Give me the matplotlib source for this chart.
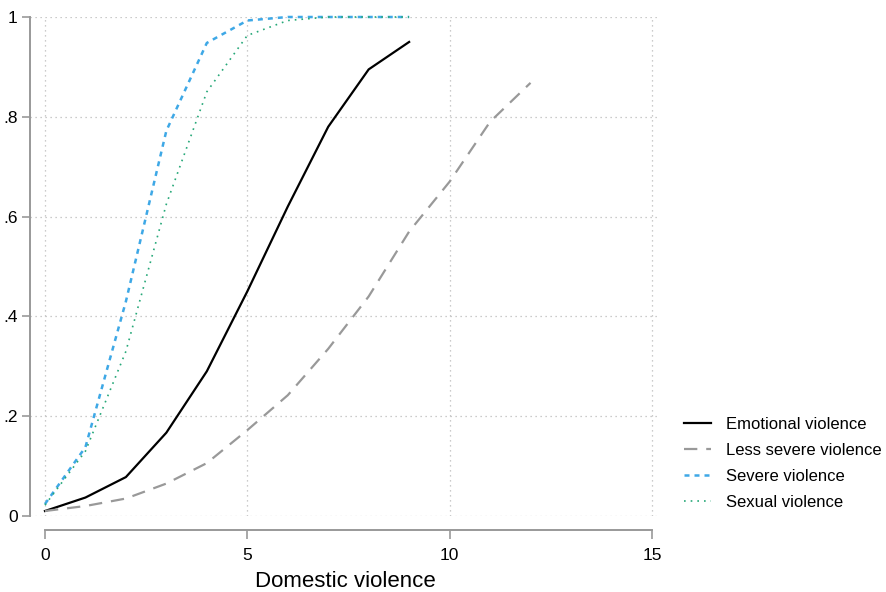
import matplotlib
matplotlib.use('Agg')
import matplotlib.pyplot as plt

# values
x_emot = [0, 1, 2, 3, 4, 5, 6, 7, 8, 9]
emotional = [0.010, 0.037, 0.078, 0.167, 0.290, 0.450, 0.620, 0.780, 0.895, 0.950]

x_less = [0, 1, 2, 3, 4, 5, 6, 7, 8, 9, 10, 11, 12]
less_severe = [0.010, 0.020, 0.035, 0.065, 0.106, 0.172, 0.242, 0.335, 0.440, 0.570, 0.670, 0.790, 0.868]

x_sev = [0, 1, 2, 3, 4, 5, 6, 7, 8, 9]
severe = [0.024, 0.138, 0.430, 0.772, 0.948, 0.993, 1.0, 1.0, 1.0, 1.0]

x_sex = [0, 1, 2, 3, 4, 5, 6, 7, 8, 9]
sexual = [0.022, 0.130, 0.330, 0.625, 0.850, 0.963, 0.993, 1.0, 1.0, 1.0]

xticks = [0, 5, 10, 15]
yticks = [0, 0.2, 0.4, 0.6, 0.8, 1.0]
ylabels = ['0', '.2', '.4', '.6', '.8', '1']

plt.rcParams['font.family'] = ['Liberation Sans', 'DejaVu Sans']

fig = plt.figure(figsize=(8.86, 5.92), dpi=100)
ax = fig.add_axes([30 / 886, 76 / 592, 630 / 886, 499 / 592])

ax.plot(x_emot, emotional, color='black', lw=1.6, ls='-', label='Emotional violence', clip_on=False)
ax.plot(x_less, less_severe, color='#999999', lw=1.6, ls=(0, (6, 4)), label='Less severe violence', clip_on=False)
ax.plot(x_sev, severe, color='#3ea8e6', lw=1.8, ls=(0, (2, 2)), label='Severe violence', clip_on=False)
ax.plot(x_sex, sexual, color='#26a878', lw=1.2, ls=(0, (1, 3)), label='Sexual violence', clip_on=False)

ax.set_xlim(-0.37, 15.2)
ax.set_ylim(0, 1)
ax.set_xticks(xticks)
ax.set_yticks(yticks)
ax.set_yticklabels(ylabels)

ax.grid(True, color='#bbbbbb', ls=(0, (1, 3)), lw=0.9)
ax.set_axisbelow(True)

for s in ['top', 'right']:
    ax.spines[s].set_visible(False)
ax.spines['left'].set_bounds(0, 1)
ax.spines['left'].set_color('#999999')
ax.spines['left'].set_linewidth(1.4)
ax.spines['bottom'].set_position(('outward', 10))
ax.spines['bottom'].set_bounds(0, 15)
ax.spines['bottom'].set_color('#999999')
ax.spines['bottom'].set_linewidth(1.4)

ax.tick_params(axis='both', colors='#999999', width=1.2, labelsize=12.5, labelcolor='black')
ax.tick_params(axis='x', length=6.5, pad=6.5)
ax.tick_params(axis='y', length=5.8, pad=3)

ax.set_xlabel('Domestic violence', fontsize=16, labelpad=6)

ax.legend(loc='center left', bbox_to_anchor=(1.015, 0.105), frameon=False,
          fontsize=12, handlelength=1.6, handletextpad=0.9, labelspacing=0.66)

fig.savefig('out.png', dpi=100)
